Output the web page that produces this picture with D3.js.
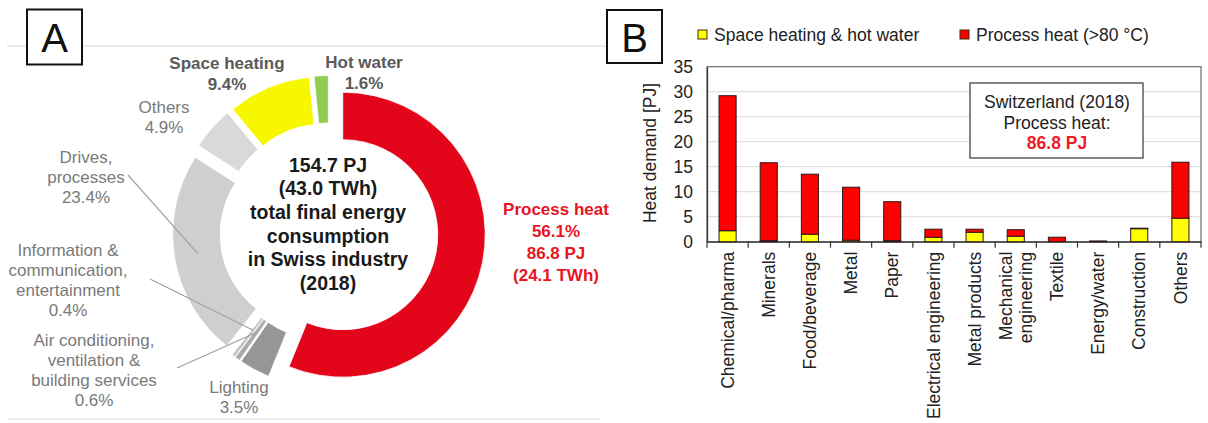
<!DOCTYPE html>
<html><head><meta charset="utf-8">
<script src="https://cdn.jsdelivr.net/npm/d3@7"></script>
<style>
body{margin:0;background:#fff;}
svg{display:block;font-family:"Liberation Sans",Arial,sans-serif;}
</style></head>
<body><svg id="c" width="1208" height="423"></svg>
<script>
// ---------- Panel A data ----------
const donutNames = ["Process heat","Lighting","Air conditioning","Information","Drives","Others","Space heating","Hot water"];
const donutShares = [56.1, 3.5, 0.6, 0.4, 23.4, 4.9, 9.4, 1.6];
const donutColors = ["#e3061b","#969696","#ababab","#c4c4c4","#cfcfcf","#d9d9d9","#f7f700","#8fcc4f"];
const centerLines = ["154.7 PJ","(43.0 TWh)","total final energy","consumption","in Swiss industry","(2018)"];

// ---------- Panel B data ----------
const categories = ["Chemical/pharma","Minerals","Food/beverage","Metal","Paper","Electrical engineering","Metal products","Mechanical|engineering","Textile","Energy/water","Construction","Others"];
const spaceHeatingHotWater = [2.2, 0.2, 1.5, 0.3, 0.2, 0.9, 1.9, 1.1, 0.0, 0.0, 2.6, 4.7];
const processHeat = [27.0, 15.6, 12.0, 10.6, 7.8, 1.6, 0.6, 1.3, 0.9, 0.15, 0.1, 11.2];
const yTicks = [0,5,10,15,20,25,30,35];
const seriesNames = ["Space heating & hot water","Process heat (>80 °C)"];
const seriesColors = ["#ffff00","#ff0000"];

(function(){
const svg = d3.select("#c");

// ================= Panel A =================
const cx = 329, cy = 232, rIn = 95, rOut = 142.5, explode = 14;
const pie = d3.pie().sort(null).value(d => d)(donutShares);
const arc = d3.arc().innerRadius(rIn).outerRadius(rOut);
const gA = svg.append("g");

gA.append("line").attr("x1",7).attr("x2",607).attr("y1",46).attr("y2",46).attr("stroke","#d6d6d6").attr("stroke-width",1.2);
gA.append("line").attr("x1",7).attr("x2",600).attr("y1",419).attr("y2",419).attr("stroke","#ececec").attr("stroke-width",2);

function offsetOf(p){ const m=(p.startAngle+p.endAngle)/2; return [explode*Math.sin(m), -explode*Math.cos(m)]; }

gA.selectAll("path.slice").data(pie).join("path")
  .attr("class","slice")
  .attr("transform", p => { const o=offsetOf(p); return `translate(${cx+o[0]},${cy+o[1]})`; })
  .attr("d", arc)
  .attr("fill", (p,i) => donutColors[i])
  .attr("stroke","#fff").attr("stroke-width",0.8);

function centroidAbs(i, rr){
  const p = pie[i], m=(p.startAngle+p.endAngle)/2, o=offsetOf(p);
  const r = rr || (rIn+rOut)/2;
  return [cx+o[0]+r*Math.sin(m), cy+o[1]-r*Math.cos(m)];
}

gA.append("text").attr("text-anchor","middle")
  .attr("font-size",19.5).attr("font-weight","bold").attr("fill","#1a1a1a")
  .selectAll("tspan").data(centerLines).join("tspan")
  .attr("x",328).attr("y",(d,i)=>165+i*23.6).attr("dy","0.35em").text(d=>d);

const labelLayout = [
  {lines:["Process heat", donutShares[0].toFixed(1)+"%","86.8 PJ","(24.1 TWh)"], x:556, y:209, color:"#e8141f", bold:true, lh:22},
  {lines:["Lighting", donutShares[1]+"%"], x:239, y:387, color:"#7a7a7a", lh:20},
  {lines:["Air conditioning,","ventilation &","building services", donutShares[2]+"%"], x:94, y:340, color:"#7a7a7a", lh:20},
  {lines:["Information &","communication,","entertainment", donutShares[3]+"%"], x:68, y:250, color:"#7a7a7a", lh:20},
  {lines:["Drives,","processes", donutShares[4]+"%"], x:86, y:157, color:"#7a7a7a", lh:20},
  {lines:["Others", donutShares[5]+"%"], x:164, y:107, color:"#7a7a7a", lh:20},
  {lines:["Space heating", donutShares[6]+"%"], x:227, y:63, color:"#5a5a5a", bold:true, lh:21},
  {lines:["Hot water", donutShares[7]+"%"], x:364, y:62, color:"#5a5a5a", bold:true, lh:21}
];
labelLayout.forEach(L => {
  gA.append("text").attr("text-anchor","middle").attr("font-size",17)
    .attr("font-weight", L.bold?"bold":"normal").attr("fill",L.color)
    .selectAll("tspan").data(L.lines).join("tspan")
    .attr("x",L.x).attr("y",(d,i)=>L.y+i*L.lh).attr("dy","0.35em").text(d=>d);
});

const leaders = [
  {from:[128,175], idx:4, r:null},
  {from:[150,279], idx:3, r:110},
  {from:[177,368], idx:2, r:110}
];
leaders.forEach(l => {
  const e = centroidAbs(l.idx, l.r);
  gA.append("line").attr("x1",l.from[0]).attr("y1",l.from[1]).attr("x2",e[0]).attr("y2",e[1])
    .attr("stroke","#a0a0a0").attr("stroke-width",1.2);
});

gA.append("rect").attr("x",27).attr("y",9.5).attr("width",55).attr("height",55).attr("fill","#fff").attr("stroke","#111").attr("stroke-width",2);
gA.append("text").attr("x",54.5).attr("y",52).attr("text-anchor","middle").attr("font-size",40).attr("fill","#111").text("A");

// ================= Panel B =================
const gB = svg.append("g");
const pL = 707, pR = 1201, pT = 66.7, pB = 241.7;
const x = d3.scaleBand().domain(categories).range([pL,pR]).paddingInner(0.585).paddingOuter(0.2925);
const xb = d3.scaleBand().domain(categories).range([pL,pR]);
const y = d3.scaleLinear().domain([0,35]).range([pB,pT]);

gB.selectAll("line.grid").data(yTicks.filter(t=>t>0 && t<35)).join("line")
  .attr("class","grid")
  .attr("x1",pL).attr("x2",pR).attr("y1",d=>y(d)).attr("y2",d=>y(d))
  .attr("stroke","#d9d9d9").attr("stroke-width",1);

gB.append("rect").attr("x",pL).attr("y",pT).attr("width",pR-pL).attr("height",pB-pT)
  .attr("fill","none").attr("stroke","#6b6b6b").attr("stroke-width",1.2);

const yAxis = d3.axisLeft(y).tickValues(yTicks).tickSize(0).tickPadding(14);
const ya = gB.append("g").attr("transform",`translate(${pL},0)`).call(yAxis);
ya.select(".domain").attr("stroke","#333").attr("stroke-width",1.3);
ya.selectAll("text").attr("font-size",17.5).attr("fill","#222").attr("font-family","Liberation Sans, Arial, sans-serif");

const xAxis = d3.axisBottom(xb).tickValues([]).tickSizeOuter(0);
const xa = gB.append("g").attr("transform",`translate(0,${pB})`).call(xAxis);
xa.select(".domain").attr("stroke","#333").attr("stroke-width",1.3);
gB.selectAll("line.xt").data(categories.concat(["_end"])).join("line")
  .attr("class","xt")
  .attr("x1",(d,i)=> i<categories.length ? xb(d) : pR)
  .attr("x2",(d,i)=> i<categories.length ? xb(d) : pR)
  .attr("y1",pB).attr("y2",pB+6).attr("stroke","#333").attr("stroke-width",1.2);

const stackData = categories.map((c,i)=>({cat:c, a:spaceHeatingHotWater[i], b:processHeat[i]}));
const stacked = d3.stack().keys(["a","b"])(stackData);
gB.selectAll("g.series").data(stacked).join("g").attr("class","series")
  .attr("fill",(s,i)=>seriesColors[i])
  .selectAll("rect").data(s=>s).join("rect")
  .attr("x",d=>x(d.data.cat)).attr("width",x.bandwidth())
  .attr("y",d=>y(d[1])).attr("height",d=>Math.max(0,y(d[0])-y(d[1])))
  .attr("stroke","#2a1a1a").attr("stroke-width",1);

categories.forEach(c => {
  const parts = c.split("|");
  const cxp = xb(c)+xb.bandwidth()/2;
  parts.forEach((p,j) => {
    const off = (j-(parts.length-1)/2)*20;
    gB.append("text").attr("transform",`translate(${cxp+off},${pB+10}) rotate(-90)`)
      .attr("text-anchor","end").attr("dy","0.35em").attr("font-size",17.5).attr("fill","#222").text(p);
  });
});

gB.append("text").attr("transform","translate(650,153) rotate(-90)").attr("text-anchor","middle")
  .attr("dy","0.35em").attr("font-size",17.5).attr("fill","#222").text("Heat demand [PJ]");

const legX = [698, 960];
seriesNames.forEach((n,i)=>{
  gB.append("rect").attr("x",legX[i]).attr("y",30).attr("width",9).attr("height",9)
    .attr("fill",seriesColors[i]).attr("stroke","#3a2a00").attr("stroke-width",1);
  gB.append("text").attr("x",legX[i]+16).attr("y",34.5).attr("dy","0.35em")
    .attr("font-size",17.5).attr("fill","#222").text(n);
});

gB.append("rect").attr("x",970).attr("y",83).attr("width",173).attr("height",75)
  .attr("fill","#fff").attr("stroke","#444").attr("stroke-width",1.3);
const boxLines = ["Switzerland (2018)","Process heat:","86.8 PJ"];
boxLines.forEach((t,i)=>{
  gB.append("text").attr("x",1057).attr("y",[101.5,122.5,143][i]).attr("dy","0.35em")
    .attr("text-anchor","middle").attr("font-size",17.5)
    .attr("font-weight", i===2?"bold":"normal").attr("fill", i===2?"#ee1c25":"#222").text(t);
});

gB.append("rect").attr("x",607).attr("y",10).attr("width",55).attr("height",53).attr("fill","#fff").attr("stroke","#111").attr("stroke-width",2);
gB.append("text").attr("x",634.5).attr("y",51.5).attr("text-anchor","middle").attr("font-size",40).attr("fill","#111").text("B");
})();
</script>
</body></html>
